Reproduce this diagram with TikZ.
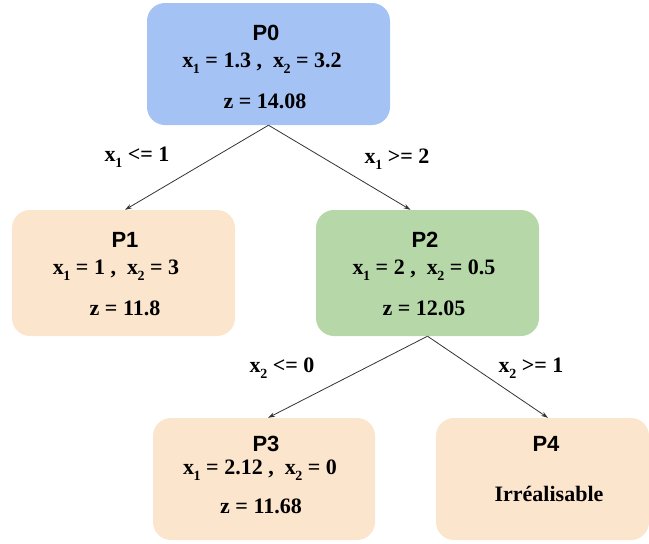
\documentclass[tikz,border=0pt]{standalone}
\usepackage{fontspec}
\setmainfont{Liberation Serif}
\setsansfont{Liberation Sans}
\usetikzlibrary{arrows.meta,calc}
\definecolor{cblue}{HTML}{A4C2F4}
\definecolor{cpeach}{HTML}{FCE5CD}
\definecolor{cgreen}{HTML}{B6D7A8}
\definecolor{cline}{HTML}{333333}
\newcommand\xsub[1]{x\kern-0.3pt\raisebox{-0.6ex}{\fontsize{14}{14}\selectfont #1}}
\begin{document}
\begin{tikzpicture}[x=1pt,y=-1pt,
  box/.style={rounded corners=18pt,minimum width=#1,inner sep=0pt,draw=none},
  ttl/.style={font=\sffamily\bfseries\fontsize{22}{22}\selectfont,inner sep=0pt},
  txt/.style={font=\bfseries\fontsize{22}{22}\selectfont,inner sep=0pt},
  edge/.style={draw=cline,line width=0.8pt,-{Stealth[length=7pt,width=4.5pt]}},
  elab/.style={font=\bfseries\fontsize{22}{22}\selectfont,inner sep=0pt}]
\useasboundingbox (0,0) rectangle (649,544);
\node[box=243pt,minimum height=122pt,fill=cblue] (P0) at (268.5,64) {};
\node[box=223pt,minimum height=126pt,fill=cpeach] (P1) at (123.5,273) {};
\node[box=223pt,minimum height=126pt,fill=cgreen] (P2) at (427.5,273) {};
\node[box=222pt,minimum height=122pt,fill=cpeach] (P3) at (264,479) {};
\node[box=213pt,minimum height=122pt,fill=cpeach] (P4) at (542.5,479) {};
% texts
\node[ttl] (t0) at (266,33) {P0};
\node[txt] (a0) at (262,63) {\xsub{1} = 1.3 ,\ \ \xsub{2} = 3.2};
\node[txt] (z0) at (265,101) {z = 14.08};
\node[ttl] (t1) at (125,240) {P1};
\node[txt] (a1) at (116,270) {\xsub{1} = 1 ,\ \ \xsub{2} = 3};
\node[txt] (z1) at (125,308) {z = 11.8};
\node[ttl] (t2) at (425,240) {P2};
\node[txt] (a2) at (424,270) {\xsub{1} = 2 ,\ \ \xsub{2} = 0.5};
\node[txt] (z2) at (424,308) {z = 12.05};
\node[ttl] (t3) at (266,444) {P3};
\node[txt] (a3) at (260,470) {\xsub{1} = 2.12 ,\ \ \xsub{2} = 0};
\node[txt] (z3) at (261,506) {z = 11.68};
\node[ttl] (t4) at (546,444) {P4};
\node[txt] (i4) at (549,494) {Irréalisable};
% edges
\draw[edge] (P0.south) -- ([xshift=1.5pt]P1.north);
\draw[edge] (P0.south) -- ([xshift=-17pt]P2.north);
\draw[edge] (P2.south) -- ([xshift=4pt]P3.north);
\draw[edge] (P2.south) -- ([xshift=5.5pt]P4.north);
% edge labels
\node[elab] (l1) at (137,157) {\xsub{1} <= 1};
\node[elab] (l2) at (397,159) {\xsub{1} >= 2};
\node[elab] (l3) at (282,368) {\xsub{2} <= 0};
\node[elab] (l4) at (531,368) {\xsub{2} >= 1};
\end{tikzpicture}
\end{document}
